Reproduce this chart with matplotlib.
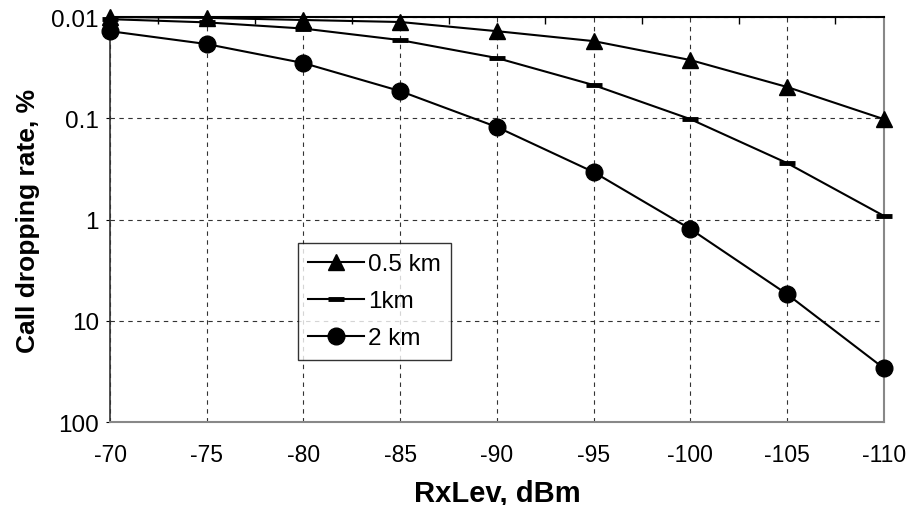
import numpy as np
import matplotlib
matplotlib.use("Agg")
import matplotlib.pyplot as plt
from matplotlib.ticker import FixedLocator, FixedFormatter

# RxLev levels (dBm)
rxlev = [-70, -75, -80, -85, -90, -95, -100, -105, -110]

# call dropping rate, %
drop_05km = [0.0100, 0.0102, 0.0107, 0.0112, 0.0138, 0.0173, 0.0266, 0.0491, 0.102]
drop_1km = [0.0105, 0.0113, 0.0130, 0.0169, 0.0254, 0.0470, 0.102, 0.277, 0.92]
drop_2km = [0.0138, 0.0185, 0.0285, 0.0539, 0.122, 0.340, 1.24, 5.46, 29.4]

y_ticks = [0.01, 0.1, 1, 10, 100]
y_tick_labels = ["0.01", "0.1", "1", "10", "100"]

plt.rcParams["font.family"] = ["Liberation Sans", "DejaVu Sans"]

fig = plt.figure(figsize=(9.13, 5.06), dpi=100)
ax = fig.add_axes([0.1205, 0.164, 0.8475, 0.8004])

ax.plot(rxlev, drop_05km, color="black", lw=1.5, marker="^", ms=11,
        label="0.5 km", clip_on=False, zorder=4)
ax.plot(rxlev, drop_1km, color="black", lw=1.5, marker="_", ms=12, mew=3.5,
        label="1km", clip_on=False, zorder=4)
ax.plot(rxlev, drop_2km, color="black", lw=1.5, marker="o", ms=12,
        label="2 km", clip_on=False, zorder=4)

ax.set_yscale("log")
ax.set_ylim(100, 0.01)
ax.set_xlim(-70, -110)

ax.yaxis.set_major_locator(FixedLocator(y_ticks))
ax.yaxis.set_major_formatter(FixedFormatter(y_tick_labels))
ax.yaxis.set_minor_locator(FixedLocator([]))
ax.set_xticks(rxlev)
ax.set_xticklabels([str(v) for v in rxlev])
mids = [(a + b) / 2 for a, b in zip(rxlev[:-1], rxlev[1:])]
ax.xaxis.set_minor_locator(FixedLocator(mids))

ax.tick_params(axis="x", which="major", length=0, labelsize=16.5, pad=15)
ax.tick_params(axis="x", which="minor", top=True, bottom=False,
               direction="in", length=5, width=1, color="black")
ax.tick_params(axis="y", which="major", length=3, labelsize=17.5, pad=5)

ax.grid(True, which="major", axis="both", color="#333333", lw=0.8,
        linestyle=(0, (4, 4)))
ax.set_axisbelow(True)

for side in ["bottom", "right"]:
    ax.spines[side].set_color("#888888")
    ax.spines[side].set_linewidth(1.5)
ax.spines["top"].set_color("black")
ax.spines["top"].set_linewidth(1.5)
ax.spines["left"].set_color("#333333")
ax.spines["left"].set_linewidth(1.2)

ax.set_xlabel("RxLev, dBm", fontsize=21, fontweight="bold", labelpad=9)
ax.set_ylabel("Call dropping rate, %", fontsize=19, fontweight="bold", labelpad=8)

leg = ax.legend(loc="upper left", bbox_to_anchor=(0.243, 0.442),
                borderaxespad=0, fontsize=17.5, frameon=True, fancybox=False,
                handlelength=2.3, labelspacing=0.62, handletextpad=0.15,
                borderpad=0.42)
leg.get_frame().set_edgecolor("black")
leg.get_frame().set_linewidth(1.0)

fig.savefig("out.png", dpi=100)
